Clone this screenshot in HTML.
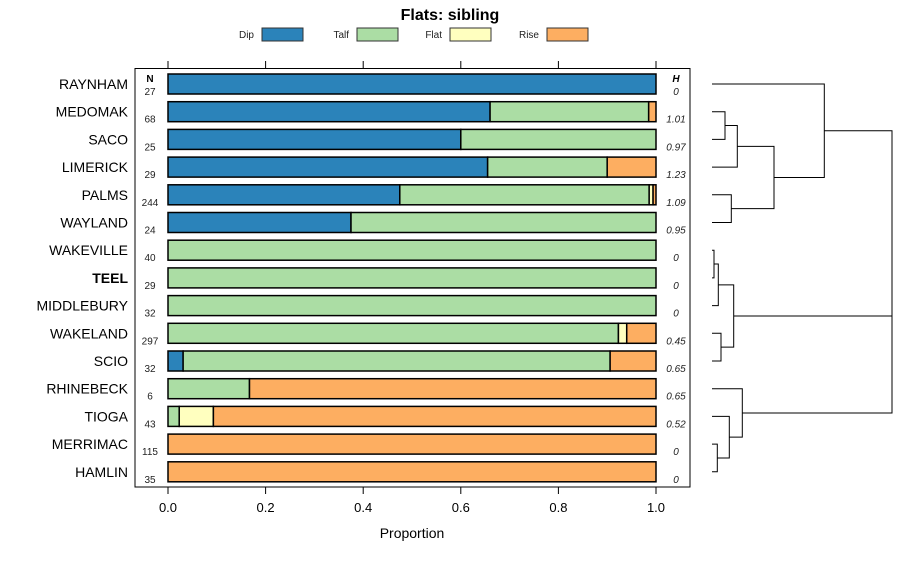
<!DOCTYPE html>
<html><head><meta charset="utf-8"><style>
body{margin:0;background:#fff;}
svg text{font-family:"Liberation Sans",sans-serif;}
</style></head><body>
<svg id="chart" width="900" height="560" xmlns="http://www.w3.org/2000/svg">
<text x="450" y="20" text-anchor="middle" font-size="16" font-weight="bold">Flats: sibling</text>
<g id="legend"></g>
<rect x="135" y="68.5" width="555" height="418.5" fill="none" stroke="#000" stroke-width="1"/>
<g id="bars"></g>
<g id="axis"></g>
<text x="412" y="538" text-anchor="middle" font-size="14">Proportion</text>
<text x="150" y="82" text-anchor="middle" font-size="10" font-weight="bold">N</text>
<text x="676" y="82" text-anchor="middle" font-size="10" font-weight="bold" font-style="italic">H</text>
<g id="dendro" fill="none" stroke="#000" stroke-width="1"></g>
</svg>
<script>
const categories=["RAYNHAM","MEDOMAK","SACO","LIMERICK","PALMS","WAYLAND","WAKEVILLE","TEEL","MIDDLEBURY","WAKELAND","SCIO","RHINEBECK","TIOGA","MERRIMAC","HAMLIN"];
const seriesNames=["Dip","Talf","Flat","Rise"];
const dip=[1,0.66,0.6,0.655,0.475,0.375,0,0,0,0,0.031,0,0,0,0];
const talf=[0,0.325,0.4,0.245,0.511,0.625,1,1,1,0.923,0.875,0.167,0.023,0,0];
const flat=[0,0,0,0,0.008,0,0,0,0,0.017,0,0,0.07,0,0];
const rise=[0,0.015,0,0.1,0.006,0,0,0,0,0.06,0.094,0.833,0.907,1,1];
const nLabels=["27","68","25","29","244","24","40","29","32","297","32","6","43","115","35"];
const hLabels=["0","1.01","0.97","1.23","1.09","0.95","0","0","0","0.45","0.65","0.65","0.52","0","0"];
const ticks=[0,0.2,0.4,0.6,0.8,1.0];
const colors=["#2b83ba","#abdda4","#ffffbf","#fdae61"];
const NS="http://www.w3.org/2000/svg";
const xS=v=>168+v*488;
const yS=i=>84+i*27.7;
function mk(tag,attrs,parent){const e=document.createElementNS(NS,tag);for(const k in attrs)e.setAttribute(k,attrs[k]);parent.appendChild(e);return e;}
const series=[dip,talf,flat,rise];
const bars=document.getElementById('bars');
categories.forEach((c,i)=>{
  const y=yS(i);
  const lab=mk('text',{x:128,y:y+5,'text-anchor':'end','font-size':14},bars);
  lab.textContent=c;
  if(c==="TEEL")lab.setAttribute('font-weight','bold');
  
  
  let cum=0;
  series.forEach((s,k)=>{
    const v=s[i];if(v<=0)return;
    const r=mk('rect',{x:xS(cum),y:y-10,width:v*488,height:20,fill:colors[k],stroke:'#000','stroke-width':1.5},bars);
    
    
    cum+=v;
  });
  const n=mk('text',{x:150,y:y+11,'text-anchor':'middle','font-size':10,fill:'#222'},bars);
  n.textContent=nLabels[i];
  
  
  const h=mk('text',{x:676,y:y+11,'text-anchor':'middle','font-size':10,'font-style':'italic',fill:'#222'},bars);
  h.textContent=hLabels[i];
  
  
});
const ax=document.getElementById('axis');
ticks.forEach(t=>{
  const x=xS(t);
  mk('line',{x1:x,x2:x,y1:487,y2:494,stroke:'#000'},ax);
  mk('line',{x1:x,x2:x,y1:61,y2:68.5,stroke:'#000'},ax);
  const tl=mk('text',{x:x,y:512,'text-anchor':'middle','font-size':13},ax);
  tl.textContent=t.toFixed(1);
  
  
});
const leg=document.getElementById('legend');
const legX=[262,357,450,547];
seriesNames.forEach((s,k)=>{
  const t=mk('text',{x:legX[k]-8,y:38,'text-anchor':'end','font-size':10,fill:'#222'},leg);
  t.textContent=s;
  
  
  const r=mk('rect',{x:legX[k],y:28,width:41,height:13,fill:colors[k],stroke:'#333','stroke-width':1},leg);
  
  
});
// dendrogram: [leftChildY, rightChildY, childXa, childXb, mergeX]
const d=document.getElementById('dendro');
function link(ya,xa,yb,xb,xm){mk('path',{d:`M${xa},${ya}H${xm}V${yb}H${xb}`},d);return (ya+yb)/2;}
const L=712;
const a1=link(yS(1),L,yS(2),L,725);
const a2=link(a1,725,yS(3),L,737.3);
const a3=link(yS(4),L,yS(5),L,731.3);
const a4=link(a2,737.3,a3,731.3,774);
const a5=link(yS(0),L,a4,774,824.3);
const b1=link(yS(6),L,yS(7),L,714);
const b2=link(b1,714,yS(8),L,718.3);
const b3=link(yS(9),L,yS(10),L,721);
const b4=link(b2,718.3,b3,721,733.7);
const c1=link(yS(13),L,yS(14),L,717.3);
const c2=link(yS(12),L,c1,717.3,729.3);
const c3=link(yS(11),L,c2,729.3,742.3);
mk('path',{d:`M824.3,${a5}H892V${c3}H742.3M733.7,${b4}H892`},d);
</script>
</body></html>
